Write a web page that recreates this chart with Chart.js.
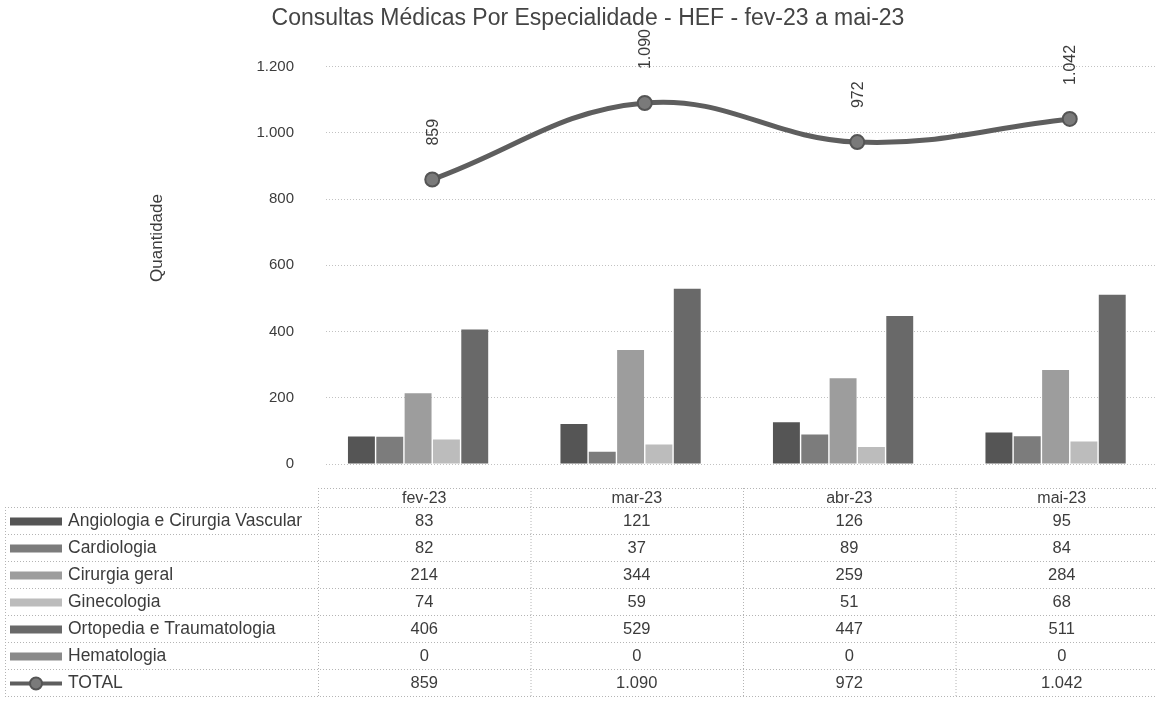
<!DOCTYPE html>
<html>
<head>
<meta charset="utf-8">
<title>Consultas Médicas Por Especialidade</title>
<script src="https://cdn.jsdelivr.net/npm/chart.js@4.4.0/dist/chart.umd.min.js"></script>
<style>
  html, body { margin: 0; padding: 0; background: #fff; overflow: hidden; }
  #wrap { width: 1157px; height: 702px; overflow: hidden; }
</style>
</head>
<body>
<div id="wrap"><canvas id="chart" width="1185" height="702"></canvas></div>
<script>
// DATA
const months = ['fev-23', 'mar-23', 'abr-23', 'mai-23'];
const seriesNames = [
  'Angiologia e Cirurgia Vascular',
  'Cardiologia',
  'Cirurgia geral',
  'Ginecologia',
  'Ortopedia e Traumatologia',
  'Hematologia'
];
const angiologia = [83, 121, 126, 95];
const cardiologia = [82, 37, 89, 84];
const cirurgiaGeral = [214, 344, 259, 284];
const ginecologia = [74, 59, 51, 68];
const ortopedia = [406, 529, 447, 511];
const hematologia = [0, 0, 0, 0];
const total = [859, 1090, 972, 1042];
const totalName = 'TOTAL';
const yTicks = [0, 200, 400, 600, 800, 1000, 1200];

const barValues = [angiologia, cardiologia, cirurgiaGeral, ginecologia, ortopedia, hematologia];
const barColors = ['#555555', '#7c7c7c', '#9d9d9d', '#bcbcbc', '#696969', '#8a8a8a'];
const lineColor = '#5e5e5e';
const textColor = '#3c3c3c';
// the printed table sits a little left of the plot
const tableShift = -8;

// 1090 -> "1.090"
const fmt = (v) => String(v).replace(/\B(?=(\d{3})+(?!\d))/g, '.');

Chart.defaults.font.family = "'Liberation Sans', Arial, sans-serif";
Chart.defaults.color = textColor;

// rotated labels above the TOTAL points + axis title
const labelsPlugin = {
  id: 'totalLabels',
  afterDatasetsDraw(chart) {
    const { ctx } = chart;
    const meta = chart.getDatasetMeta(0);
    ctx.save();
    ctx.font = "16px 'Liberation Sans', Arial, sans-serif";
    ctx.fillStyle = textColor;
    ctx.textAlign = 'left';
    ctx.textBaseline = 'middle';
    meta.data.forEach((pt, i) => {
      ctx.save();
      ctx.translate(pt.x + 1, pt.y - 34);
      ctx.rotate(-Math.PI / 2);
      ctx.fillText(fmt(total[i]), 0, 0);
      ctx.restore();
    });
    // y axis title
    ctx.save();
    ctx.font = "17px 'Liberation Sans', Arial, sans-serif";
    ctx.textAlign = 'center';
    ctx.translate(157, 238);
    ctx.rotate(-Math.PI / 2);
    ctx.fillText('Quantidade', 0, 0);
    ctx.restore();
    ctx.restore();
  }
};

// data table under the plot, columns taken from the x scale
const tablePlugin = {
  id: 'dataTable',
  afterDraw(chart) {
    const { ctx } = chart;
    const x = chart.scales.x;
    const colX = (i) => x.getPixelForValue(i) + tableShift;
    const colW = x.getPixelForValue(1) - x.getPixelForValue(0);
    const tableLeft = 5;
    const headTop = 488;
    const rowTop = 507;
    const rowH = 27;
    const first = colX(0) - colW / 2;
    const right = colX(months.length - 1) + colW / 2;
    const rows = seriesNames.map((name, i) => ({ name, data: barValues[i], color: barColors[i], line: false }));
    rows.push({ name: totalName, data: total, color: lineColor, line: true });
    const bottom = rowTop + rows.length * rowH;

    ctx.save();
    ctx.strokeStyle = '#b4b4b4';
    ctx.lineWidth = 1;
    ctx.setLineDash([1, 2]);
    const hline = (x1, x2, y) => { ctx.beginPath(); ctx.moveTo(x1, y + 0.5); ctx.lineTo(x2, y + 0.5); ctx.stroke(); };
    const vline = (xx, y1, y2) => { ctx.beginPath(); ctx.moveTo(xx + 0.5, y1); ctx.lineTo(xx + 0.5, y2); ctx.stroke(); };
    hline(first, right, headTop);
    for (let r = 0; r <= rows.length; r++) hline(tableLeft, right, rowTop + r * rowH);
    vline(tableLeft, rowTop, bottom);
    for (let c = 0; c <= months.length; c++) vline(first + c * colW, headTop, bottom);
    ctx.setLineDash([]);

    // header
    ctx.font = "16px 'Liberation Sans', Arial, sans-serif";
    ctx.fillStyle = textColor;
    ctx.textAlign = 'center';
    ctx.textBaseline = 'middle';
    months.forEach((m, i) => ctx.fillText(m, colX(i), (headTop + rowTop) / 2 + 1));

    // rows
    rows.forEach((row, r) => {
      const cy = rowTop + r * rowH + rowH / 2 + 1;
      if (row.line) {
        ctx.strokeStyle = row.color;
        ctx.lineWidth = 4;
        ctx.beginPath(); ctx.moveTo(10, cy); ctx.lineTo(62, cy); ctx.stroke();
        ctx.fillStyle = '#7a7a7a';
        ctx.strokeStyle = '#555';
        ctx.lineWidth = 2;
        ctx.beginPath(); ctx.arc(36, cy, 6, 0, Math.PI * 2); ctx.fill(); ctx.stroke();
      } else {
        ctx.fillStyle = row.color;
        ctx.fillRect(10, cy - 4, 52, 8);
      }
      ctx.fillStyle = textColor;
      ctx.font = "17.5px 'Liberation Sans', Arial, sans-serif";
      ctx.textAlign = 'left';
      ctx.fillText(row.name, 68, cy);
      ctx.font = "16.5px 'Liberation Sans', Arial, sans-serif";
      ctx.textAlign = 'center';
      row.data.forEach((v, i) => ctx.fillText(fmt(v), colX(i), cy));
    });
    ctx.restore();
  }
};

const datasets = [
  {
    type: 'line',
    label: totalName,
    data: total,
    borderColor: lineColor,
    borderWidth: 5,
    tension: 0.4,
    pointRadius: 7,
    pointBackgroundColor: '#7a7a7a',
    pointBorderColor: '#555555',
    pointBorderWidth: 2,
    order: 0
  }
];
seriesNames.forEach((name, i) => {
  datasets.push({
    type: 'bar',
    label: name,
    data: barValues[i],
    backgroundColor: barColors[i],
    categoryPercentage: 0.8,
    barPercentage: 0.95,
    order: 1
  });
});

new Chart(document.getElementById('chart'), {
  type: 'bar',
  data: { labels: months, datasets },
  options: {
    responsive: false,
    animation: false,
    devicePixelRatio: 1,
    layout: { padding: { top: 0, left: 0, right: 9, bottom: 238 } },
    plugins: {
      legend: { display: false },
      tooltip: { enabled: false },
      title: {
        display: true,
        text: 'Consultas Médicas Por Especialidade - HEF - fev-23 a mai-23',
        color: '#444',
        font: { size: 23, weight: 'normal' },
        padding: { top: 5, bottom: 34 }
      }
    },
    scales: {
      x: {
        display: false,
        offset: true
      },
      y: {
        min: 0,
        max: 1200,
        afterBuildTicks(scale) { scale.ticks = yTicks.map((v) => ({ value: v })); },
        afterFit(scale) { scale.width = 326; },
        ticks: {
          padding: 32,
          color: textColor,
          font: { size: 15 },
          callback: (v) => fmt(v)
        },
        grid: { color: '#c2c2c2', drawTicks: false },
        border: { display: false, dash: [1, 2] }
      }
    }
  },
  plugins: [labelsPlugin, tablePlugin]
});
</script>
</body>
</html>
